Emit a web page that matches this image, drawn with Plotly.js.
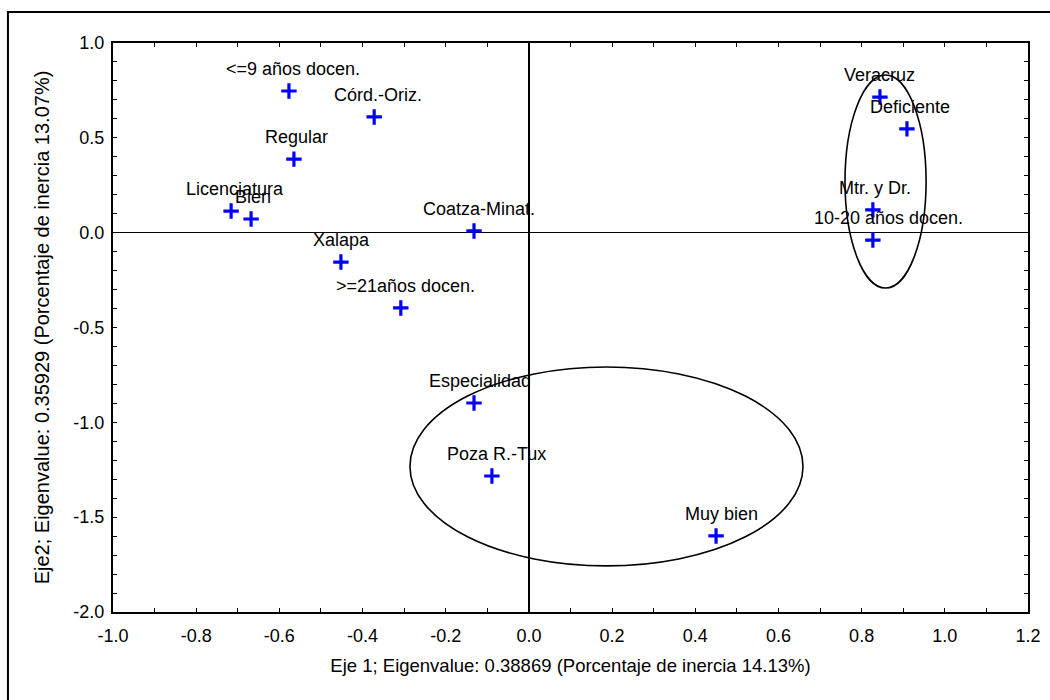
<!DOCTYPE html>
<html>
<head>
<meta charset="utf-8">
<script src="https://cdn.plot.ly/plotly-3.0.1.min.js"></script>
<style>html,body{margin:0;padding:0;background:#fff;}#chart{width:1050px;height:700px;}</style>
</head>
<body>
<div id="chart"></div>
<script>
const labels = ["<=9 años docen.", "Córd.-Oriz.", "Regular", "Licenciatura", "Bien", "Coatza-Minat.", "Xalapa", ">=21años docen.", "Especialidad", "Poza R.-Tux", "Muy bien", "Veracruz", "Deficiente", "Mtr. y Dr.", "10-20 años docen."];
const eje1 = [-0.577, -0.372, -0.565, -0.716, -0.668, -0.132, -0.452, -0.308, -0.132, -0.089, 0.450, 0.844, 0.909, 0.827, 0.827];
const eje2 = [0.747, 0.610, 0.388, 0.114, 0.072, 0.009, -0.155, -0.397, -0.898, -1.283, -1.599, 0.715, 0.547, 0.120, -0.039];
const labelShiftX = [4, 4, 3, 4, 2, 5, 1, 5, 6, 5, 5, 0, 3, 2, 16];
const xTickVals = [-1.0, -0.8, -0.6, -0.4, -0.2, 0.0, 0.2, 0.4, 0.6, 0.8, 1.0, 1.2];
const xTickText = ["-1.0", "-0.8", "-0.6", "-0.4", "-0.2", "0.0", "0.2", "0.4", "0.6", "0.8", "1.0", "1.2"];
const yTickVals = [-2.0, -1.5, -1.0, -0.5, 0.0, 0.5, 1.0];
const yTickText = ["-2.0", "-1.5", "-1.0", "-0.5", "0.0", "0.5", "1.0"];
// ellipse extents [x0, x1, y0, y1]
const ellipseA = [0.760, 0.955, -0.292, 0.831];
const ellipseB = [-0.286, 0.659, -1.757, -0.708];

const fontFam = 'Liberation Sans, Arial, sans-serif';

const trace = {
  x: eje1, y: eje2, type: 'scatter', mode: 'markers',
  marker: {symbol: 'cross-thin', size: 11, color: '#0000ff', line: {color: '#0000ff', width: 3.2}},
  hoverinfo: 'skip', showlegend: false
};

const annotations = labels.map((t, i) => ({
  x: eje1[i], y: eje2[i], xref: 'x', yref: 'y', text: t, showarrow: false,
  xshift: labelShiftX[i], yshift: 22, font: {family: fontFam, size: 18, color: '#000'}
}));

function ell(e) {
  return {type: 'circle', xref: 'x', yref: 'y', x0: e[0], x1: e[1], y0: e[2], y1: e[3],
    line: {color: '#000', width: 1.6}, fillcolor: 'rgba(0,0,0,0)'};
}

const layout = {
  width: 1050, height: 700,
  margin: {l: 113, r: 22, t: 43, b: 88},
  paper_bgcolor: '#fff', plot_bgcolor: '#fff',
  font: {family: fontFam, color: '#000'},
  xaxis: {
    range: [-1.0, 1.2], tickmode: 'array', tickvals: xTickVals, ticktext: xTickText,
    ticks: 'inside', ticklen: 4, tickwidth: 1, tickcolor: '#000', ticklabelstandoff: 6,
    minor: {dtick: 0.1, tick0: -1, ticks: 'inside', ticklen: 4, tickwidth: 1, tickcolor: '#000', showgrid: false},
    showline: true, linecolor: '#000', linewidth: 2, mirror: 'ticks',
    showgrid: false, zeroline: true, zerolinecolor: '#000', zerolinewidth: 1.5,
    tickfont: {family: fontFam, size: 18, color: '#000'},
    title: {text: 'Eje 1; Eigenvalue: 0.38869 (Porcentaje de inercia 14.13%)', font: {family: fontFam, size: 18.5, color: '#000'}, standoff: 14}
  },
  yaxis: {
    range: [-2.0, 1.0], tickmode: 'array', tickvals: yTickVals, ticktext: yTickText,
    ticks: 'inside', ticklen: 4, tickwidth: 1, tickcolor: '#000', ticklabelstandoff: 3,
    minor: {dtick: 0.1, tick0: -2, ticks: 'inside', ticklen: 4, tickwidth: 1, tickcolor: '#000', showgrid: false},
    showline: true, linecolor: '#000', linewidth: 2, mirror: 'ticks',
    showgrid: false, zeroline: true, zerolinecolor: '#000', zerolinewidth: 1.5,
    tickfont: {family: fontFam, size: 18, color: '#000'},
    title: {text: 'Eje2; Eigenvalue: 0.35929 (Porcentaje de inercia 13.07%)', font: {family: fontFam, size: 20, color: '#000'}, standoff: 18}
  },
  shapes: [ell(ellipseA), ell(ellipseB),
    {type: 'rect', xref: 'paper', yref: 'paper', x0: -0.1148, x1: 1.06, y0: -0.18, y1: 1.0545,
     line: {color: '#000', width: 2}, fillcolor: 'rgba(0,0,0,0)', layer: 'below'}],
  annotations: annotations
};

Plotly.newPlot('chart', [trace], layout, {staticPlot: true, displayModeBar: false});
</script>
</body>
</html>
